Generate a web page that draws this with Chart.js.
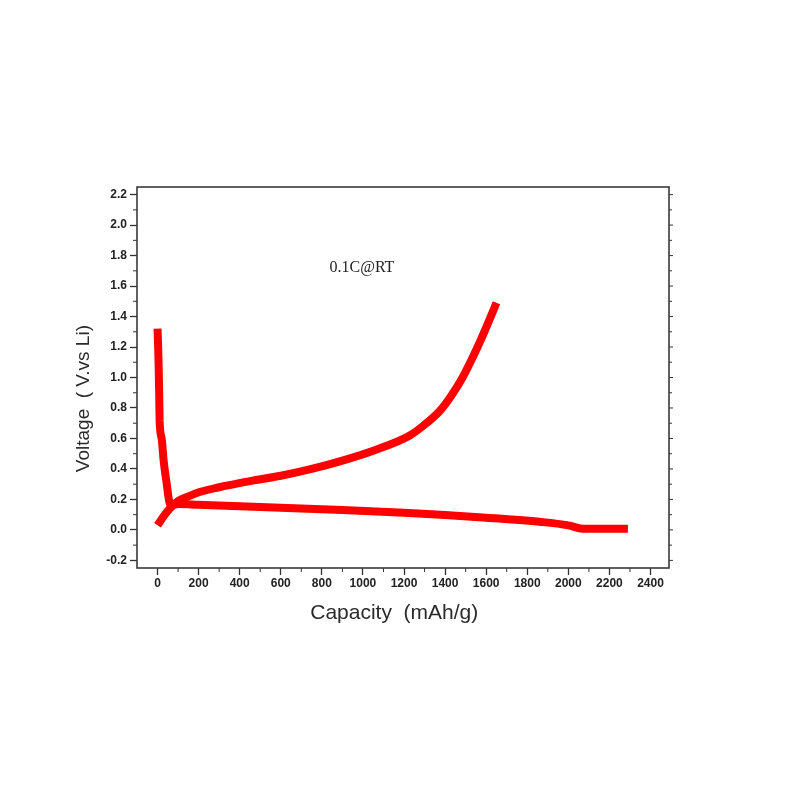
<!DOCTYPE html>
<html>
<head>
<meta charset="utf-8">
<script src="https://cdn.jsdelivr.net/npm/chart.js@4/dist/chart.umd.min.js"></script>
<style>
  html, body { margin: 0; padding: 0; background: #fff; }
  #wrap { width: 800px; height: 800px; }
</style>
</head>
<body>
<div id="wrap"><canvas id="c" width="800" height="800"></canvas></div>
<script>
// Discharge (lithiation) curve
const dischargeCapacity = [0, 2, 3, 5, 8, 10, 20, 30, 45, 55, 65, 100, 200, 400, 600, 900, 1200, 1400, 1600, 1860, 2000, 2070, 2290];
const dischargeVoltage  = [1.32, 1.24, 1.20, 1.10, 0.90, 0.72, 0.60, 0.45, 0.30, 0.20, 0.16, 0.17, 0.165, 0.155, 0.145, 0.13, 0.112, 0.098, 0.08, 0.053, 0.03, 0.008, 0.007];
// Charge (delithiation) curve
const chargeCapacity = [0, 10, 30, 60, 100, 150, 209, 300, 450, 600, 750, 900, 1050, 1228, 1300, 1374, 1430, 1485, 1530, 1570, 1610, 1650];
const chargeVoltage  = [0.03, 0.05, 0.09, 0.14, 0.19, 0.22, 0.25, 0.28, 0.32, 0.355, 0.40, 0.455, 0.52, 0.62, 0.69, 0.78, 0.88, 1.00, 1.12, 1.235, 1.36, 1.49];

// Major tick labels
const xTickValues = [0, 200, 400, 600, 800, 1000, 1200, 1400, 1600, 1800, 2000, 2200, 2400];
const yTickValues = [-0.2, 0.0, 0.2, 0.4, 0.6, 0.8, 1.0, 1.2, 1.4, 1.6, 1.8, 2.0, 2.2];

const xTitle = 'Capacity  (mAh/g)   ';
const yTitle = 'Voltage  ( V.vs Li)        ';
const annotationText = '0.1C@RT';
const annotationAt = { x: 995, y: 1.72 };

const toPoints = (xs, ys) => xs.map((x, i) => ({ x: x, y: ys[i] }));

const RED = '#ff0000';
const TXT = '#222222';

const framePlugin = {
  id: 'frame',
  afterDraw(chart) {
    const { ctx, chartArea: a, scales } = chart;
    ctx.save();
    ctx.strokeStyle = '#333';
    ctx.lineWidth = 1;
    const xs = scales.x, ys = scales.y;
    // minor ticks halfway between major ticks
    const xt = xs.ticks.map(t => t.value);
    const xStep = xt[1] - xt[0];
    for (let i = 0; i < xt.length; i++) {
      const px = xs.getPixelForValue(xt[i] + xStep / 2);
      if (px > a.right) continue;
      ctx.beginPath(); ctx.moveTo(px, a.bottom); ctx.lineTo(px, a.bottom + 4); ctx.stroke();
    }
    const yt = ys.ticks.map(t => t.value);
    const yStep = yt[1] - yt[0];
    for (let i = 0; i < yt.length; i++) {
      const pyMinor = ys.getPixelForValue(yt[i] + yStep / 2);
      if (pyMinor > a.top) {
        ctx.beginPath(); ctx.moveTo(a.left - 4, pyMinor); ctx.lineTo(a.left, pyMinor); ctx.stroke();
        ctx.beginPath(); ctx.moveTo(a.right, pyMinor); ctx.lineTo(a.right + 3, pyMinor); ctx.stroke();
      }
      const py = ys.getPixelForValue(yt[i]);
      ctx.beginPath(); ctx.moveTo(a.right, py); ctx.lineTo(a.right + 4, py); ctx.stroke();
    }
    // frame
    ctx.strokeStyle = '#3a3a3a';
    ctx.lineWidth = 1.6;
    ctx.strokeRect(a.left, a.top, a.right - a.left, a.bottom - a.top);
    // annotation
    ctx.fillStyle = TXT;
    ctx.font = '16px "Liberation Serif", "Times New Roman", serif';
    ctx.textAlign = 'center';
    ctx.textBaseline = 'middle';
    ctx.fillText(annotationText, xs.getPixelForValue(annotationAt.x), ys.getPixelForValue(annotationAt.y));
    ctx.restore();
  }
};

const tickFont = { family: '"Liberation Sans", Arial, sans-serif', size: 12, weight: 'bold' };

new Chart(document.getElementById('c'), {
  type: 'line',
  data: {
    datasets: [
      {
        label: 'discharge',
        data: toPoints(dischargeCapacity, dischargeVoltage),
        borderColor: RED, backgroundColor: RED,
        borderWidth: 8, pointRadius: 0,
        cubicInterpolationMode: 'monotone',
        borderCapStyle: 'butt'
      },
      {
        label: 'charge',
        data: toPoints(chargeCapacity, chargeVoltage),
        borderColor: RED, backgroundColor: RED,
        borderWidth: 8, pointRadius: 0,
        cubicInterpolationMode: 'monotone',
        borderCapStyle: 'butt'
      }
    ]
  },
  options: {
    responsive: false,
    animation: false,
    devicePixelRatio: 1,
    layout: { padding: { left: 50, right: 131, top: 187, bottom: 162 } },
    plugins: { legend: { display: false }, tooltip: { enabled: false } },
    scales: {
      x: {
        type: 'linear', position: 'bottom',
        min: -100, max: 2490,
        border: { display: false },
        grid: { drawOnChartArea: false, drawTicks: true, tickLength: 7, tickColor: '#333', tickWidth: 1.3 },
        afterBuildTicks(s) { s.ticks = xTickValues.map(v => ({ value: v })); },
        ticks: { autoSkip: false, maxRotation: 0, padding: 1, color: TXT, font: tickFont,
                 callback: v => String(v) },
        title: { display: true, text: xTitle, color: '#2a2a2a',
                 font: { family: '"Liberation Sans", Arial, sans-serif', size: 21 },
                 padding: { top: 4, bottom: 12 } },
        afterFit(s) { s.height = 70; }
      },
      y: {
        type: 'linear', position: 'left',
        min: -0.25, max: 2.25,
        border: { display: false },
        grid: { drawOnChartArea: false, drawTicks: true, tickLength: 7, tickColor: '#333', tickWidth: 1.3 },
        afterBuildTicks(s) { s.ticks = yTickValues.map(v => ({ value: v })); },
        ticks: { autoSkip: false, padding: 3, color: TXT, font: tickFont,
                 callback: v => Number(v).toFixed(1) },
        title: { display: true, text: yTitle, color: '#2a2a2a',
                 font: { family: '"Liberation Sans", Arial, sans-serif', size: 19 },
                 padding: { top: 22, bottom: 0 } },
        afterFit(s) { s.width = 87; }
      }
    }
  },
  plugins: [framePlugin]
});
</script>
</body>
</html>
